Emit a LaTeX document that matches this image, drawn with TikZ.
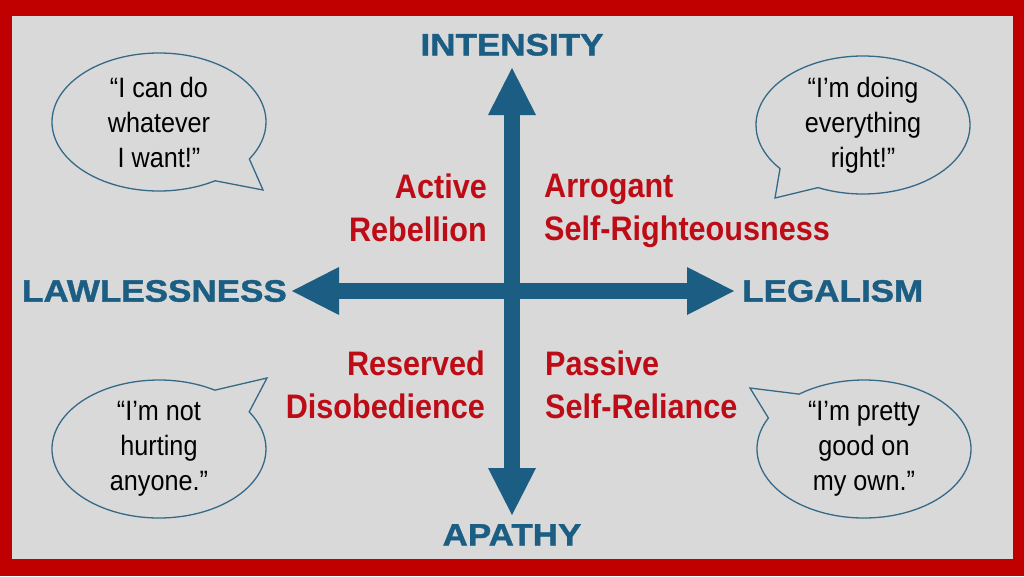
\documentclass[tikz,border=0pt]{standalone}
\usepackage{fontspec}
\setmainfont{Liberation Sans}
\newfontfamily\widefont[FakeStretch=1.13,FakeBold=1.3]{Liberation Sans Bold}
\newfontfamily\narrowfont[FakeStretch=0.9]{Liberation Sans}
\usetikzlibrary{positioning,arrows.meta,shapes.callouts}
\definecolor{framered}{RGB}{192,0,0}
\definecolor{panelgray}{RGB}{217,217,217}
\definecolor{axisblue}{RGB}{28,94,131}
\definecolor{quadred}{RGB}{190,12,22}
\definecolor{bubbleline}{RGB}{52,105,135}

\begin{document}
\begin{tikzpicture}[
    x=1pt, y=-1pt,
    axisline/.style={draw=axisblue, line width=16pt, >={Triangle[width=48pt,length=47pt,line width=0pt]}, <->},
    axislabel/.style={inner sep=0pt, text=axisblue, font=\widefont\fontsize{31}{37}\selectfont},
    quad/.style={inner sep=0pt, text=quadred, font=\narrowfont\bfseries\fontsize{34}{43}\selectfont},
    bubble/.style={ellipse callout, draw=bubbleline, line width=1.3pt, fill=panelgray, inner sep=0pt, minimum width=214pt, minimum height=138pt, callout pointer arc=26, align=center, font=\narrowfont\fontsize{28}{35}\selectfont}
]

\fill[framered] (0,0) rectangle (1024,576);
\fill[panelgray] (12,16) rectangle (1013,559);

\coordinate (centre) at (512,291);
\coordinate (uptip) at (512,68);
\coordinate (downtip) at (512,515);
\coordinate (lefttip) at (292,291);
\coordinate (righttip) at (734,291);

\node[axislabel, above=12pt of uptip] (intensity) {INTENSITY};
\node[axislabel, below=9pt of downtip] (apathy) {APATHY};
\node[axislabel, left=5pt of lefttip] (lawless) {LAWLESSNESS};
\node[axislabel, right=8pt of righttip] (legal) {LEGALISM};

\draw[axisline] (downtip) -- (uptip);
\draw[axisline] (lefttip) -- (righttip);

\node[quad, align=right, anchor=north east] (active) at (487,174) {Active\\Rebellion};
\node[quad, align=left, anchor=north west] (arrogant) at (544,174) {Arrogant\\Self-Righteousness};
\node[quad, align=right, anchor=north east] (reserved) at (485,351) {Reserved\\Disobedience};
\node[quad, align=left, anchor=north west] (passive) at (545,351) {Passive\\Self-Reliance};

\node[bubble, callout absolute pointer={(263,190)}] (cando) at (159,122) {“I can do\\whatever\\I want!”};
\node[bubble, callout absolute pointer={(775,198)}] (doingright) at (863,125) {“I’m doing\\everything\\right!”};
\node[bubble, callout absolute pointer={(267,378)}] (nothurting) at (159,449) {“I’m not\\hurting\\anyone.”};
\node[bubble, callout absolute pointer={(750,388)}] (owngood) at (864,449) {“I’m pretty\\good on\\my own.”};

\end{tikzpicture}
\end{document}
